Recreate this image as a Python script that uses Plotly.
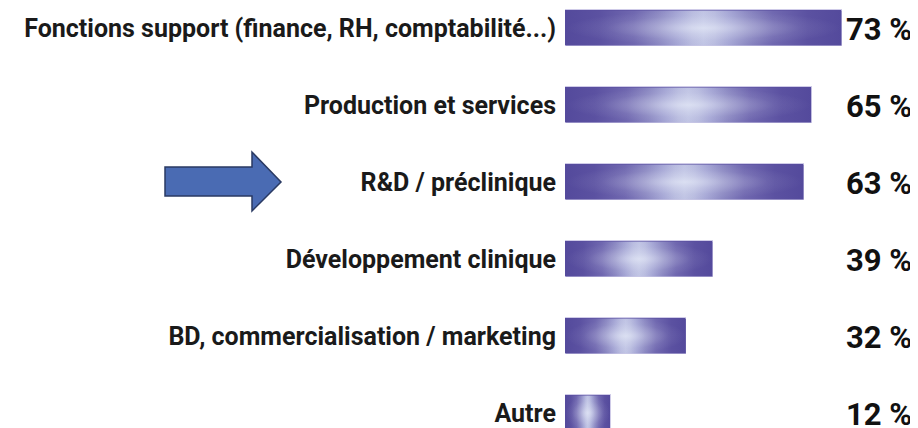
import plotly.graph_objects as go

categories = [
    "Fonctions support (finance, RH, comptabilité...)",
    "Production et services",
    "R&D / préclinique",
    "Développement clinique",
    "BD, commercialisation / marketing",
    "Autre",
]
values = [73, 65, 63, 39, 32, 12]
value_labels = ["73 %", "65 %", "63 %", "39 %", "32 %", "12 %"]
highlight = "R&D / préclinique"

OFF = 8  # page body margin
W, H = 918 - OFF, 428 - OFF
ML, MR, MT, MB = 565 - OFF, 0, 0, 0
PX_PER_UNIT = 3.795
BAR_W = 0.47
xmax = (W - ML - MR) / PX_PER_UNIT
ROW_PX = 77
y_top = -(28 - OFF) / ROW_PX
y_bot = y_top + (H - MT - MB) / ROW_PX

idx = list(range(len(categories)))

fig = go.Figure()
fig.add_trace(go.Bar(
    x=values, y=idx, orientation="h", width=BAR_W,
    marker=dict(color="#564b9d", line=dict(color="#cfcbe8", width=1)),
    hoverinfo="skip", showlegend=False,
))

hscale = [[0, "#544a9c"], [0.12, "#5b51a1"], [0.25, "#7068b0"], [0.34, "#8b88c2"],
          [0.41, "#a5a6d5"], [0.46, "#b8bbdf"], [0.5, "#c0c4e4"], [0.54, "#b8bbdf"],
          [0.59, "#a5a6d5"], [0.66, "#8b88c2"], [0.75, "#7068b0"], [0.88, "#5b51a1"],
          [1, "#544a9c"]]
rscale = [[0, "rgba(236,241,251,0.6)"], [0.35, "rgba(236,241,251,0.3)"],
          [0.7, "rgba(236,241,251,0.08)"], [1, "rgba(236,241,251,0)"]]
for i, v in zip(idx, values):
    y0, y1 = i - BAR_W / 2 + 0.008, i + BAR_W / 2 - 0.008
    xs = [0.15, v - 0.15, v - 0.15, 0.15, 0.15]
    ys = [y0, y0, y1, y1, y0]
    fig.add_trace(go.Scatter(
        x=xs, y=ys, mode="lines", line=dict(width=0), fill="toself",
        fillgradient=dict(type="horizontal", colorscale=hscale),
        hoverinfo="skip", showlegend=False,
    ))
    fig.add_trace(go.Scatter(
        x=xs, y=ys, mode="lines", line=dict(width=0), fill="toself",
        fillgradient=dict(type="radial", colorscale=rscale),
        hoverinfo="skip", showlegend=False,
    ))

for i, lab in zip(idx, value_labels):
    fig.add_annotation(
        x=1, xref="paper", y=i, yref="y", text=lab, showarrow=False,
        xanchor="right", xshift=-4, yshift=-1,
        font=dict(family="Roboto, sans-serif", size=31, color="#111111", weight="bold"),
    )

# arrow pointing at the highlighted category (screen pixel geometry -> paper/y coords)
def px(x):
    return (x - OFF - ML) / (W - ML - MR)

hy = categories.index(highlight)
def py_(dy):
    return hy + dy / ROW_PX

pts = [(165, -15), (252, -15), (252, -30), (281, 0), (252, 29), (252, 14), (165, 14)]
path = "M " + " L ".join(f"{px(x)},{py_(dy)}" for x, dy in pts) + " Z"
fig.add_shape(type="path", path=path, xref="paper", yref="y",
              fillcolor="#4a6bb3", line=dict(color="#2a3a63", width=1.5), layer="above")

fig.update_layout(
    width=W, height=H, margin=dict(l=ML, r=MR, t=MT, b=MB, pad=0),
    paper_bgcolor="white", plot_bgcolor="white", bargap=0,
    xaxis=dict(range=[0, xmax], visible=False, fixedrange=True),
    yaxis=dict(range=[y_bot, y_top], tickmode="array", tickvals=idx, ticktext=categories,
               showgrid=False, zeroline=False, showline=False, ticks="",
               ticklabelstandoff=8,
               tickfont=dict(family="Roboto, sans-serif", size=25, color="#1a1a1a", weight="bold")),
)

fig.write_html("out.html")
